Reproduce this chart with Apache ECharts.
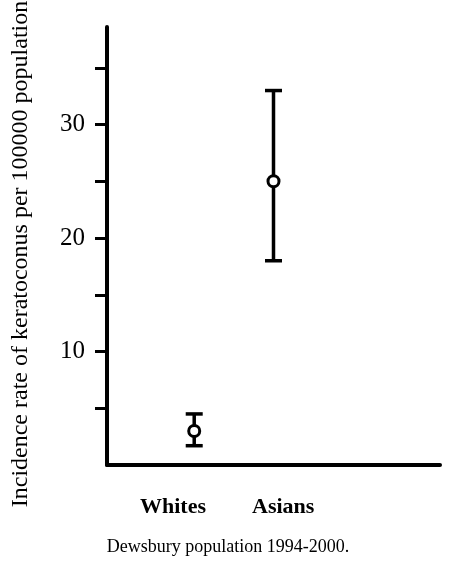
<!DOCTYPE html>
<html>
<head>
<meta charset="utf-8">
<script src="https://cdn.jsdelivr.net/npm/echarts@6/dist/echarts.min.js"></script>
<style>
html,body{margin:0;padding:0;background:#fff;}
#main{width:449px;height:568px;}
</style>
</head>
<body>
<div id="main"></div>
<script>
var categories = ['Whites', 'Asians'];
var categoryPos = [1, 2];
var rates = [3.0, 25.0];
var lowerCI = [1.7, 18.0];
var upperCI = [4.5, 33.0];
var yTickValues = [5, 10, 15, 20, 25, 30, 35];
var yLabelValues = [10, 20, 30];
var yTitle = 'Incidence rate of keratoconus per 100000 population';
var xTitle = 'Dewsbury population 1994-2000.';

var FONT = '"Liberation Serif", "Times New Roman", serif';
var chart = echarts.init(document.getElementById('main'), null, {renderer: 'canvas'});

var errData = categoryPos.map(function (x, i) { return [x, lowerCI[i], upperCI[i]]; });
var ptData = categoryPos.map(function (x, i) { return [x, rates[i]]; });

var option = {
  backgroundColor: '#fff',
  animation: false,
  grid: {left: 107, right: 9, top: 27, bottom: 103},
  xAxis: {
    type: 'value', min: -0.1, max: 4.1,
    splitLine: {show: false},
    axisLine: {show: true, onZero: false, lineStyle: {color: '#000', width: 4}},
    axisTick: {show: false},
    axisLabel: {show: false}
  },
  yAxis: {
    type: 'value', min: 0, max: 38.6,
    splitLine: {show: false},
    axisLine: {show: true, onZero: false, lineStyle: {color: '#000', width: 4}},
    axisTick: {show: true, inside: false, length: 12, customValues: yTickValues, lineStyle: {color: '#000', width: 3}},
    axisLabel: {show: true, customValues: yLabelValues, margin: 22, color: '#000',
      fontFamily: FONT, fontSize: 25}
  },
  series: [
    {
      type: 'custom',
      data: errData,
      renderItem: function (params, api) {
        var x = api.value(0);
        var lo = api.coord([x, api.value(1)]);
        var hi = api.coord([x, api.value(2)]);
        var w = 8.5;
        var st = {stroke: '#000', lineWidth: 3.5};
        return {
          type: 'group',
          children: [
            {type: 'line', shape: {x1: lo[0], y1: lo[1], x2: hi[0], y2: hi[1]}, style: st},
            {type: 'line', shape: {x1: lo[0] - w, y1: lo[1], x2: lo[0] + w, y2: lo[1]}, style: st},
            {type: 'line', shape: {x1: hi[0] - w, y1: hi[1], x2: hi[0] + w, y2: hi[1]}, style: st}
          ]
        };
      },
      z: 2
    },
    {
      type: 'scatter',
      data: ptData,
      symbol: 'circle',
      symbolSize: 11,
      itemStyle: {color: '#fff', borderColor: '#000', borderWidth: 3, opacity: 1},
      z: 3
    }
  ],
  graphic: [
    {type: 'text', left: 140, top: 496, style: {text: categories[0], font: 'bold 22px ' + FONT, fill: '#000'}},
    {type: 'text', left: 252, top: 496, style: {text: categories[1], font: 'bold 22px ' + FONT, fill: '#000'}},
    {type: 'text', x: 228, y: 547, style: {text: xTitle, font: '18px ' + FONT, fill: '#000', align: 'center', verticalAlign: 'middle'}},
    {type: 'text', x: 21, y: 254, rotation: Math.PI / 2, style: {text: yTitle, font: '24px ' + FONT, fill: '#000', align: 'center', verticalAlign: 'middle'}}
  ]
};
chart.setOption(option);
</script>
</body>
</html>
